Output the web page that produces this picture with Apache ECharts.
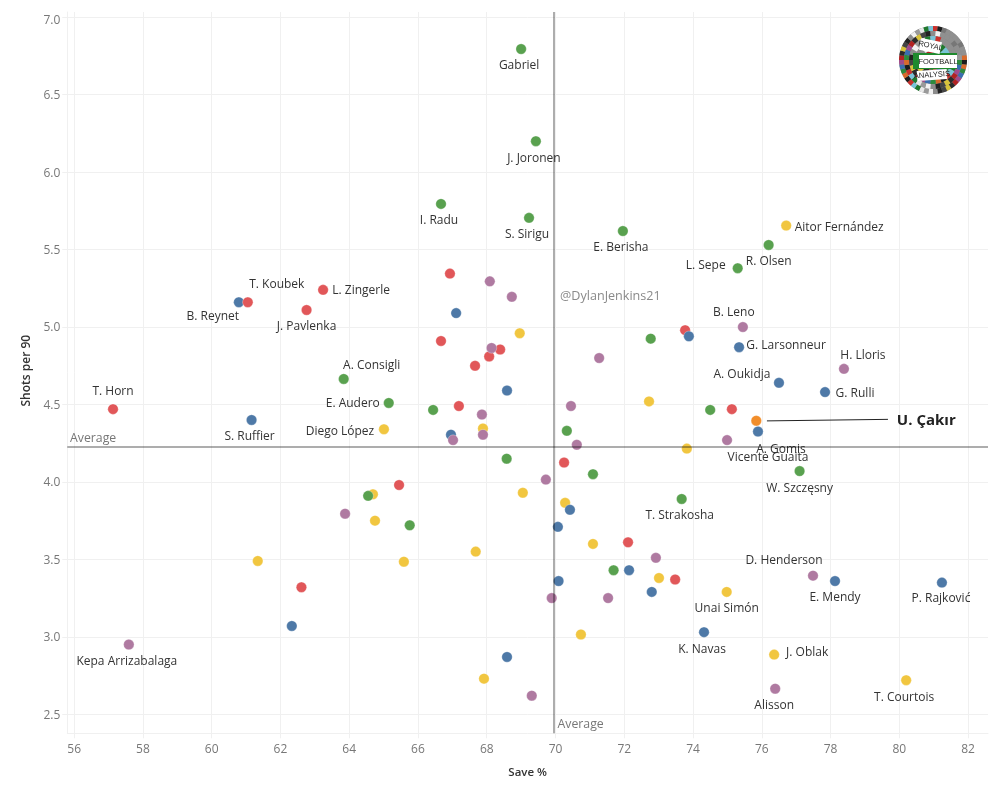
<!DOCTYPE html>
<html>
<head>
<meta charset="utf-8">
<style>html,body{margin:0;padding:0;background:#fff}#c{width:1000px;height:800px}</style>
<script src="https://cdn.jsdelivr.net/npm/echarts@6/dist/echarts.min.js"></script>
</head>
<body>
<div id="c"></div>
<script>
// [Save %, Shots per 90, player name]
const yellowPoints = [[76.71,5.655,'Aitor Fernández'],[68.96,4.96,''],[72.72,4.52,''],[65.01,4.34,'Diego López'],[67.89,4.345,''],[73.82,4.215,''],[64.69,3.92,''],[64.75,3.75,''],[69.05,3.93,''],[70.28,3.865,''],[71.09,3.6,''],[67.68,3.55,''],[65.59,3.485,''],[61.34,3.49,''],[70.74,3.015,''],[73.01,3.38,''],[74.98,3.29,'Unai Simón'],[76.36,2.885,'J. Oblak'],[80.2,2.72,'T. Courtois'],[67.92,2.73,'']];
const greenPoints = [[69.0,6.795,'Gabriel'],[69.43,6.2,'J. Joronen'],[66.67,5.795,'I. Radu'],[69.23,5.705,'S. Sirigu'],[71.96,5.62,'E. Berisha'],[76.2,5.53,'R. Olsen'],[75.3,5.38,'L. Sepe'],[72.77,4.925,''],[63.84,4.665,'A. Consigli'],[65.15,4.51,'E. Audero'],[66.44,4.465,''],[70.33,4.33,''],[68.58,4.15,''],[74.5,4.465,''],[77.1,4.07,'W. Szczęsny'],[71.09,4.05,''],[64.55,3.91,''],[65.76,3.72,''],[71.69,3.43,''],[73.67,3.89,'T. Strakosha']];
const redPoints = [[57.13,4.47,'T. Horn'],[63.24,5.24,'L. Zingerle'],[62.76,5.11,'J. Pavlenka'],[66.93,5.345,''],[66.67,4.91,''],[68.39,4.855,''],[68.07,4.81,''],[67.66,4.75,''],[67.19,4.49,''],[73.77,4.98,''],[75.13,4.47,''],[65.45,3.98,''],[70.25,4.125,''],[72.11,3.61,''],[73.48,3.37,''],[62.61,3.32,'']];
const bluePoints = [[60.79,5.16,'B. Reynet'],[61.16,4.40,'S. Ruffier'],[67.11,5.09,''],[68.59,4.59,''],[66.96,4.305,''],[75.34,4.87,'G. Larsonneur'],[73.88,4.94,''],[76.5,4.64,'A. Oukidja'],[77.84,4.58,'G. Rulli'],[75.89,4.325,'A. Gomis'],[70.42,3.82,''],[70.07,3.71,''],[70.09,3.36,''],[72.14,3.43,''],[72.8,3.29,''],[74.32,3.03,'K. Navas'],[78.13,3.36,'E. Mendy'],[81.24,3.35,'P. Rajković'],[62.33,3.07,''],[68.59,2.87,'']];
const redFrontPoints = [[61.05,5.16,'T. Koubek']];
const purplePoints = [[68.09,5.295,''],[68.73,5.195,''],[68.14,4.865,''],[71.27,4.8,''],[70.45,4.49,''],[67.86,4.435,''],[67.89,4.305,''],[67.02,4.27,''],[70.62,4.24,''],[75.45,5.0,'B. Leno'],[78.39,4.73,'H. Lloris'],[74.99,4.27,'Vicente Guaita'],[69.72,4.015,''],[63.88,3.795,''],[69.89,3.25,''],[71.53,3.25,''],[72.92,3.51,''],[77.49,3.395,'D. Henderson'],[76.39,2.665,'Alisson'],[57.59,2.95,'Kepa Arrizabalaga'],[69.31,2.62,'']];
const orangePoints = [[75.84,4.395,'U. Çakır']];
const avgSave = 69.96;
const avgShots = 4.226;
const xTicks = [56,58,60,62,64,66,68,70,72,74,76,78,80,82];
const yTicks = [2.5,3,3.5,4,4.5,5,5.5,6,6.5,7];

// label centre offsets from each dot, in pixels
const labelOffsets = {
 'T. Horn':[0,-18],'T. Koubek':[29,-18],'B. Reynet':[-26,14],'L. Zingerle':[38,1],'J. Pavlenka':[0,17],
 'A. Consigli':[28,-13],'E. Audero':[-36,1],'S. Ruffier':[-2,17],'Diego López':[-44,2],'Gabriel':[-2,16.5],
 'J. Joronen':[-2,17],'I. Radu':[-2,17],'S. Sirigu':[-2,17],'E. Berisha':[-2,17],'Aitor Fernández':[53,2],
 'R. Olsen':[0,17],'L. Sepe':[-32,-3],'B. Leno':[-9,-14],'G. Larsonneur':[47,-2],'H. Lloris':[19,-13],
 'A. Oukidja':[-37,-8],'G. Rulli':[30,1],'A. Gomis':[23,18],'Vicente Guaita':[41,17],'W. Szczęsny':[0,17],
 'T. Strakosha':[-2,17],'D. Henderson':[-29,-15],'E. Mendy':[0,17],'P. Rajković':[-1,16],'Unai Simón':[0,17],
 'K. Navas':[-2,17],'J. Oblak':[33,-2],'Alisson':[-1,16.5],'T. Courtois':[-2,17],'Kepa Arrizabalaga':[-2,17],
 'U. Çakır':[170,0]
};

const FONT = '"Open Sans", "Noto Sans", sans-serif';
function toSeries(points, color){
  return {
    type:'scatter', symbolSize:10.5, silent:true, animation:false,
    itemStyle:{color:color, borderColor:'rgba(255,255,255,0.6)', borderWidth:0.5, opacity:1},
    data:points.map(p=>{
      const off = labelOffsets[p[2]];
      return {value:[p[0],p[1]], name:p[2], label: off ? {
        show:true, position:'inside', offset:off, formatter:p[2], align:'center', verticalAlign:'middle',
        color:'#333', fontSize:12, fontFamily:FONT
      } : {show:false}};
    })
  };
}
const grid0 = {left:67.3, right:12, top:12, bottom:66.7};
const lineSoft = {color:'#f0f0f0', width:1};
const axisCommon = {
  axisLine:{show:true, onZero:false, lineStyle:lineSoft},
  axisTick:{show:true, length:5, lineStyle:lineSoft},
  splitLine:{show:true, lineStyle:lineSoft},
  nameLocation:'middle'
};
const orange = toSeries(orangePoints,'#f28e2b');
orange.data[0].label.fontSize = 15;
orange.data[0].label.fontWeight = 'bold';
orange.data[0].label.color = '#222';
orange.markLine = {silent:true, symbol:'none', animation:false, label:{show:false},
  lineStyle:{color:'#222', width:1, type:'solid'},
  data:[[{coord:[76.15,4.394]},{coord:[79.67,4.404]}]]};

const avgLines = {type:'scatter', data:[], silent:true, z:9,
  markLine:{silent:true, symbol:'none', animation:false, z:9, label:{show:false},
    lineStyle:{color:'rgba(0,0,0,0.32)', width:2, type:'solid'},
    data:[{xAxis:avgSave},{yAxis:avgShots}]}};

// logo
const logoCx=933, logoCy=60, logoR=34;
const palette=['#c9302c','#2b2b2b','#e8e8e8','#3a6fb0','#8c8c8c','#1c1c1c','#d8c23a','#1f7a2e','#a14a8c','#f2f2f2','#d86a2b','#444444','#7ac4d8','#b22222','#9a9a9a','#2e8b3d','#222222'];
const logo=[{type:'circle',shape:{cx:logoCx,cy:logoCy,r:logoR},style:{fill:'#8a8a8a'},z:20}];
let ci=0;
[[29,34,44],[24,29,34],[18,24,26],[10,18,16],[0,10,8]].forEach(([r0,r,n])=>{
  for(let i=0;i<n;i++){
    const a=i/n*2*Math.PI;
    const inGrey = a>Math.PI*1.55 && a<Math.PI*1.92 && r>18;
    logo.push({type:'sector',shape:{cx:logoCx,cy:logoCy,r0:r0,r:r,startAngle:a,endAngle:a+2*Math.PI/n},
      style:{fill:inGrey?(i%5===0?'#777':'#909090'):palette[(ci+=5)%palette.length]},z:21});
  }
});
logo.push({type:'rect',shape:{x:913,y:53,width:44,height:16},style:{fill:'#1f8a2e'},z:22});
[['ROYAL',920,40,21,12,-12],['FOOTBALL',919,55,38,13,0],['ANALYSIS',917,70,30,10,4]].forEach(b=>{
  const cx=b[1]+b[3]/2, cy=b[2]+b[4]/2;
  logo.push({type:'group',x:cx,y:cy,rotation:b[5]*Math.PI/180,z:23,children:[
    {type:'rect',shape:{x:-b[3]/2,y:-b[4]/2,width:b[3],height:b[4]},style:{fill:'#fff'},z:23},
    {type:'text',style:{text:b[0],x:0,y:0,align:'center',verticalAlign:'middle',fontSize:7.5,fontFamily:'"Liberation Sans"',fill:'#222'},z:24}
  ]});
});

const notes=[
  {type:'text',x:70,y:432.5,style:{text:'Average',fontFamily:FONT,fontSize:12.3,fill:'#777'},z:15},
  {type:'text',x:557.5,y:718,style:{text:'Average',fontFamily:FONT,fontSize:12.3,fill:'#777'},z:15},
  {type:'text',x:560,y:290,style:{text:'@DylanJenkins21',fontFamily:FONT,fontSize:12.6,fill:'#8a8a8a'},z:15}
];

const chart=echarts.init(document.getElementById('c'),null,{renderer:'canvas'});
chart.setOption({
  animation:false,
  backgroundColor:'#fff',
  grid:grid0,
  xAxis:Object.assign({},axisCommon,{type:'value',min:55.8,max:82.58,name:'Save %',nameGap:33,
    nameTextStyle:{fontFamily:FONT,fontSize:11.5,fontWeight:600,color:'#333'},
    axisTick:Object.assign({},axisCommon.axisTick,{customValues:xTicks}),
    axisLabel:{customValues:xTicks,color:'#777',fontSize:12,fontFamily:FONT,margin:10,hideOverlap:false}}),
  yAxis:Object.assign({},axisCommon,{type:'value',min:2.377,max:7.034,name:'Shots per 90',nameGap:34,
    nameTextStyle:{fontFamily:FONT,fontSize:12,fontWeight:600,color:'#333',padding:[0,0,0,4]},
    axisTick:Object.assign({},axisCommon.axisTick,{customValues:yTicks}),
    axisLabel:{customValues:yTicks,color:'#777',fontSize:12,fontFamily:FONT,margin:7,hideOverlap:false,
      padding:[2,0,0,0],
      formatter:v=>{const s=Number(v).toFixed(1);return v===7?'{top|'+s+'}':s;},
      rich:{top:{color:'#777',fontSize:12,fontFamily:FONT,padding:[5,0,0,0]}}}}),
  graphic:{elements:notes.concat(logo)},
  series:[
    toSeries(yellowPoints,'#f1c640'),
    toSeries(greenPoints,'#59a14f'),
    toSeries(redPoints,'#e15759'),
    toSeries(bluePoints,'#4e79a7'),
    toSeries(redFrontPoints,'#e15759'),
    toSeries(purplePoints,'#af7aa1'),
    orange,
    avgLines
  ]
});
</script>
</body>
</html>
